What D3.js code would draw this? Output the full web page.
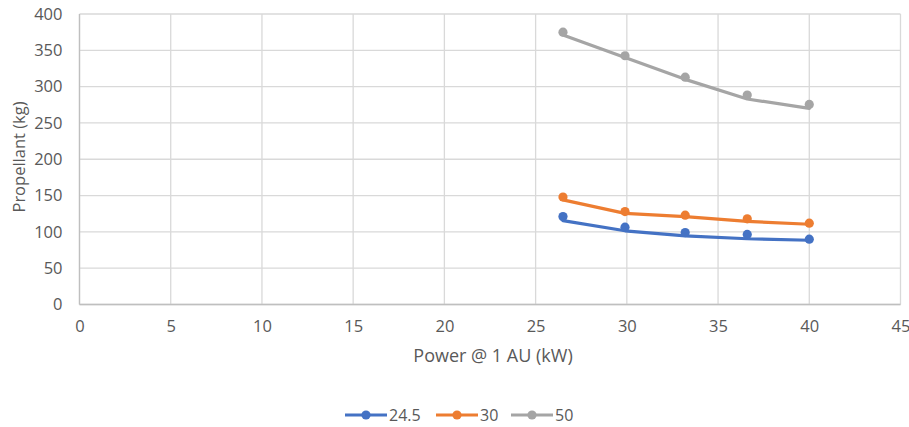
<!DOCTYPE html>
<html><head><meta charset="utf-8">
<script src="https://cdn.jsdelivr.net/npm/d3@7"></script>
<style>
body{margin:0;background:#fff;}
text{font-family:"Open Sans",Calibri,sans-serif;fill:#595959;}
</style></head>
<body><svg id="c" width="909" height="427"></svg>
<script>
const powerKW = [26.5, 29.9, 33.2, 36.6, 40];
const seriesNames = ["24.5", "30", "50"];
const points245 = [121, 106.5, 99, 96.5, 90];
const points30 = [148, 128, 123, 118, 112];
const points50 = [375, 342.5, 313, 288.5, 275.5];
const line245 = [115.5, 101.5, 94.5, 90.5, 88.5];
const line30 = [144, 125.5, 121, 114.5, 110.5];
const line50 = [371, 340, 310, 283, 270];
const xTicks = [0,5,10,15,20,25,30,35,40,45];
const yTicks = [0,50,100,150,200,250,300,350,400];
const colors = ["#4472c4","#ed7d31","#a5a5a5"];

const svg = d3.select("#c");
const x = d3.scaleLinear().domain([0,45]).range([79.5,900.5]);
const y = d3.scaleLinear().domain([0,400]).range([304.5,14]);

const grid = svg.append("g");
grid.selectAll(".gy").data(yTicks).enter().append("line")
  .attr("x1",x(0)).attr("x2",x(45)).attr("y1",d=>y(d)).attr("y2",d=>y(d))
  .attr("stroke","#d9d9d9").attr("stroke-width",1.3);
grid.selectAll(".gx").data(xTicks).enter().append("line")
  .attr("y1",y(0)).attr("y2",y(400)).attr("x1",d=>x(d)).attr("x2",d=>x(d))
  .attr("stroke","#d9d9d9").attr("stroke-width",1.3);
svg.append("line").attr("x1",x(0)).attr("x2",x(45)).attr("y1",y(0)).attr("y2",y(0))
  .attr("stroke","#bfbfbf").attr("stroke-width",1.3);
svg.append("line").attr("x1",x(0)).attr("x2",x(0)).attr("y1",y(0)).attr("y2",y(400))
  .attr("stroke","#bfbfbf").attr("stroke-width",1.3);

const xAxis = svg.append("g").attr("transform",`translate(0,${y(0)})`)
  .call(d3.axisBottom(x).tickValues(xTicks).tickSize(0).tickPadding(16));
xAxis.select(".domain").remove();
xAxis.selectAll("text").style("font-size","16.5px").attr("fill","#595959").style("font-family","'Open Sans',sans-serif");

const yAxis = svg.append("g").attr("transform",`translate(${x(0)},0)`)
  .call(d3.axisLeft(y).tickValues(yTicks).tickSize(0).tickPadding(17));
yAxis.select(".domain").remove();
yAxis.selectAll("text").style("font-size","16.5px").attr("fill","#595959").style("font-family","'Open Sans',sans-serif");

svg.append("text").attr("x",493).attr("y",362).attr("text-anchor","middle")
  .style("font-size","18px").text("Power @ 1 AU (kW)");
svg.append("text").attr("transform","translate(25,157) rotate(-90)").attr("text-anchor","middle")
  .style("font-size","16.5px").text("Propellant (kg)");

const pts = [points245, points30, points50];
const lns = [line245, line30, line50];
const lineGen = d3.line().x((d,i)=>x(powerKW[i])).y(d=>y(d));
lns.forEach((l,k)=>{
  svg.append("path").datum(l).attr("d",lineGen).attr("fill","none")
    .attr("stroke",colors[k]).attr("stroke-width",3.2).attr("stroke-linecap","round").attr("stroke-linejoin","round");
});
pts.forEach((p,k)=>{
  svg.append("g").selectAll("circle").data(p).enter().append("circle")
    .attr("cx",(d,i)=>x(powerKW[i])).attr("cy",d=>y(d)).attr("r",4.6).attr("fill",colors[k]);
});

// legend
const legX = [345, 436, 511];
const leg = svg.append("g");
seriesNames.forEach((n,k)=>{
  const g = leg.append("g").attr("transform",`translate(${legX[k]},415)`);
  g.append("line").attr("x1",0).attr("x2",42).attr("y1",0).attr("y2",0)
    .attr("stroke",colors[k]).attr("stroke-width",3.2);
  g.append("circle").attr("cx",21).attr("cy",0).attr("r",4.6).attr("fill",colors[k]);
  g.append("text").attr("x",44).attr("y",6).style("font-size","16px").text(n);
});
</script></body></html>
